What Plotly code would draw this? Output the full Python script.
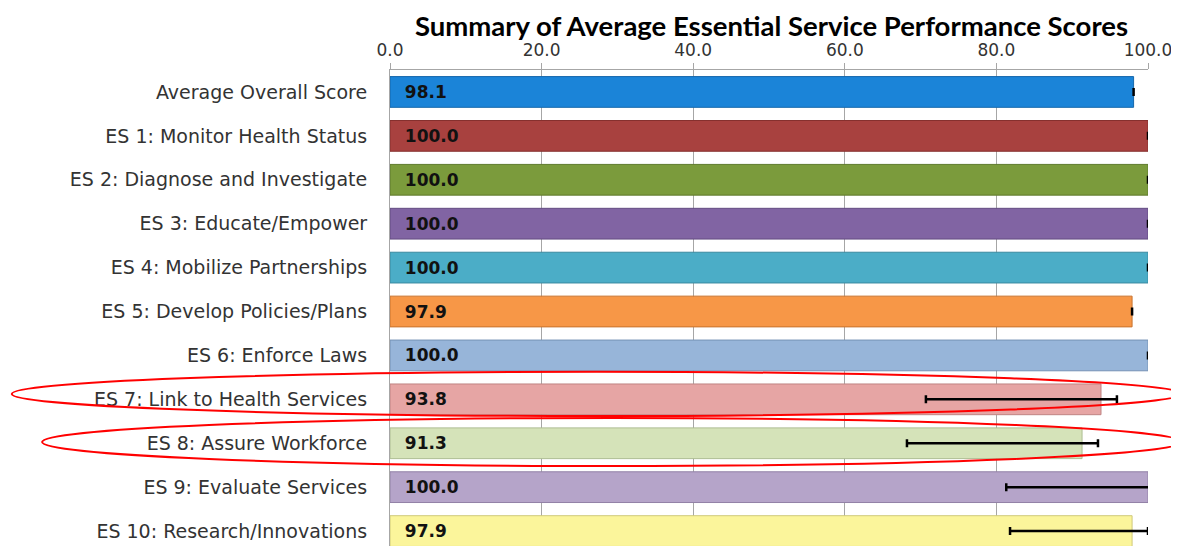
import plotly.graph_objects as go

# scores per essential service, top to bottom
labels = ['Average Overall Score', 'ES 1: Monitor Health Status', 'ES 2: Diagnose and Investigate',
          'ES 3: Educate/Empower', 'ES 4: Mobilize Partnerships', 'ES 5: Develop Policies/Plans',
          'ES 6: Enforce Laws', 'ES 7: Link to Health Services', 'ES 8: Assure Workforce',
          'ES 9: Evaluate Services', 'ES 10: Research/Innovations']
scores = [98.1, 100.0, 100.0, 100.0, 100.0, 97.9, 100.0, 93.8, 91.3, 100.0, 97.9]
err_minus = [0, 0, 0, 0, 0, 0, 0, 23.1, 23.1, 18.7, 16.1]
err_plus = [0, 0, 0, 0, 0, 0, 0, 2.1, 2.1, 2.1, 2.1]
colors = ['#1b84d8', '#a8413f', '#7b9b3c', '#8164a3', '#4badc7', '#f79747',
          '#97b5d9', '#e6a5a4', '#d5e3b9', '#b5a4c9', '#fbf59b']
edges = ['#1567ab', '#86302e', '#5f7a2c', '#634b82', '#3a8aa0', '#c9742f',
         '#7592b5', '#bf8483', '#adbd93', '#9281a6', '#cfc97a']

fig = go.Figure()
fig.add_trace(go.Bar(
    x=scores, y=labels, orientation='h',
    marker=dict(color=colors, line=dict(color=edges, width=1)),
    width=0.7,
    text=['\u00a0\u00a0%.1f' % s for s in scores], textposition='inside', insidetextanchor='start',
    textfont=dict(family='DejaVu Sans', size=17, color='#111111', weight='bold'),
    error_x=dict(type='data', symmetric=False, array=err_plus, arrayminus=err_minus,
                 color='black', thickness=2.5, width=4),
    showlegend=False, cliponaxis=True,
))

# page body adds 8px, so the figure is 8px smaller than the window
fig.update_layout(
    width=1171, height=538,
    margin=dict(l=382, r=31, t=62, b=0, autoexpand=False),
    paper_bgcolor='white', plot_bgcolor='white',
    title=dict(text='<b>Summary of Average Essential Service Performance Scores</b>',
               x=0.652, xanchor='center', y=0.966, yanchor='middle',
               font=dict(family='Lato', size=27.5, color='black')),
    xaxis=dict(side='top', range=[0, 100], dtick=20, tickformat='.1f', automargin=False,
               showgrid=True, gridcolor='#a6a6a6', gridwidth=1,
               ticks='outside', ticklen=6, tickcolor='#a6a6a6',
               showline=True, linecolor='#a6a6a6', mirror=False, zeroline=False,
               tickfont=dict(family='DejaVu Sans', size=17, color='#333333')),
    yaxis=dict(range=[10.34, -0.5], showline=True, linecolor='#a6a6a6', automargin=False,
               ticks='', ticklabelstandoff=18,
               tickfont=dict(family='DejaVu Sans', size=19, color='#333333')),
)

# red ovals highlighting ES 7 and ES 8
fig.add_shape(type='circle', xref='paper', yref='paper',
              x0=-0.499, x1=1.045, y0=0.273, y1=0.366,
              line=dict(color='red', width=2))
fig.add_shape(type='circle', xref='paper', yref='paper',
              x0=-0.459, x1=1.045, y0=0.168, y1=0.269,
              line=dict(color='red', width=2))

fig.write_html("out.html")
